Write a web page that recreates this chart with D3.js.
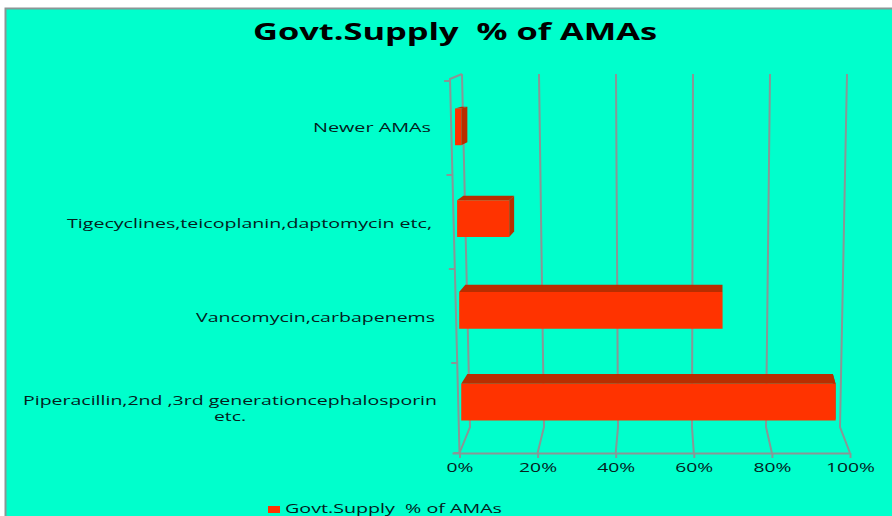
<!DOCTYPE html>
<html><head><meta charset="utf-8">
<script src="https://cdn.jsdelivr.net/npm/d3@7"></script>
<style>html,body{margin:0;padding:0;background:#fff;overflow:hidden}svg{display:block}text{font-family:"Open Sans",sans-serif;fill:#04201c}</style>
</head><body><svg id="c" width="892" height="516"></svg>
<script>
const title = "Govt.Supply  % of AMAs";
const categories = ["Newer AMAs","Tigecyclines,teicoplanin,daptomycin etc,","Vancomycin,carbapenems","Piperacillin,2nd ,3rd generationcephalosporin etc."];
const values = [1.2,13,68,97.8];
const pctTicks = [0,20,40,60,80,100];

const svg = d3.select("#c");
const grey = "#8a9695", face = "#ff3300", dark = "#b82e00", bg = "#00ffcc";

svg.append("rect").attr("x",6).attr("y",9).attr("width",886).attr("height",507).attr("fill",bg);
svg.append("path").attr("d","M5.5,516V8.5H892").attr("fill","none").attr("stroke",grey).attr("stroke-width",2);

// three planes of the fake-3D frame
const topX = d3.scaleLinear().domain([0,100]).range([462,847]);
const floorX = d3.scaleLinear().domain([0,100]).range([470,840]);
const frontX = d3.scaleLinear().domain([0,100]).range([459.5,850]);
const topY = 74, floorY = 427, frontY = 453;
const backX = (p,y)=> topX(p)+(floorX(p)-topX(p))*(y-topY)/(floorY-topY);

const gl = svg.append("g");
const lineGen = d3.line();
gl.selectAll("path.grid").data(pctTicks).join("path").attr("class","grid")
  .attr("d",p=>lineGen([[topX(p),topY],[floorX(p),floorY],[frontX(p),frontY]]))
  .attr("fill","none").attr("stroke",grey).attr("stroke-width",2);

// left wall
const wallTop = [450,79], wallBottom = [459.5,frontY];
gl.append("path").attr("d",lineGen([[topX(0),topY],wallTop,wallBottom]))
  .attr("fill","none").attr("stroke",grey).attr("stroke-width",2);

// category scale on the wall
const wallY = d3.scaleBand().domain(categories).range([81,457]);
const wallXAt = y=> wallTop[0]+(wallBottom[0]-wallTop[0])*(y-wallTop[1])/(wallBottom[1]-wallTop[1]);
const tickYs = categories.map(c=>wallY(c)).concat([frontY]);
gl.selectAll("path.wt").data(tickYs).join("path").attr("class","wt")
  .attr("d",y=>lineGen([[wallXAt(y)-6,y],[wallXAt(y),y]]))
  .attr("stroke",grey).attr("stroke-width",2);

// bottom axis
const ax = svg.append("g").attr("transform",`translate(0,${frontY})`)
  .call(d3.axisBottom(frontX).tickValues(pctTicks).tickFormat(d=>d+"%").tickSizeOuter(0).tickSize(5).tickPadding(5));
ax.select(".domain").attr("stroke",grey).attr("stroke-width",2).attr("d",`M${frontX(0)-7},0.5H${frontX(100)}`);
ax.selectAll(".tick line").attr("stroke",grey).attr("stroke-width",2);
ax.selectAll(".tick text").attr("font-size",13).attr("font-family",'"Open Sans",sans-serif').attr("fill","#04201c")
  .attr("y",10).attr("textLength",d=>d===100?49:d===0?27:38).attr("lengthAdjust","spacingAndGlyphs");

// bars
const ky = 0.03;
const barY = d3.scaleBand().domain(categories).range([81,448]).paddingInner(0.6).paddingOuter(0.3);
const persp = ([x,y])=>[x+(x-720)*0.024, y+(y-45)*ky];
const bars = svg.append("g").selectAll("g").data(categories.map((c,i)=>({c,v:values[i]}))).join("g");
const geom = d=>{
  const fy0 = barY(d.c), fy1 = fy0+barY.bandwidth();
  const by0 = fy0-((fy0-45)*ky)/(1+ky), by1 = fy1-((fy1-45)*ky)/(1+ky);
  const l = backX(0,by0)-1.5, r = backX(d.v,by0);
  return {bl:[l,by0],br:[r,by0],brb:[r,by1],fl:persp([l,by0]),fr:persp([r,by0]),frb:persp([r,by1]),flb:persp([l,by1])};
};
bars.append("path").attr("fill",dark)
  .attr("d",d=>{const g=geom(d);return lineGen([g.bl,g.br,g.fr,g.fl])+"Z";});
bars.append("path").attr("fill",dark)
  .attr("d",d=>{const g=geom(d);return lineGen([g.br,g.brb,g.frb,g.fr])+"Z";});
bars.append("path").attr("fill",face)
  .attr("d",d=>{const g=geom(d);return lineGen([g.fl,g.fr,g.frb,g.flb])+"Z";});

// text
const T=(s,x,y,size,w,weight,fill)=>{
  const t=svg.append("text").attr("x",x).attr("y",y).attr("font-size",size).text(s)
    .attr("xml:space","preserve").style("white-space","pre");
  if(weight)t.attr("font-weight",weight);
  if(fill)t.style("fill",fill);
  if(w)t.attr("textLength",w).attr("lengthAdjust","spacingAndGlyphs");
  return t;
};
T(title,253,40,24,404,700,"#000");
const labelRows = [
  [categories[0],313,132,118],
  [categories[1],67,228,365],
  [categories[2],196,322,239],
  [categories[3].replace(" etc.",""),23,405,414],
  ["etc.",214,421,32]
];
labelRows.forEach(r=>T(r[0],r[1],r[2],12,r[3]));

// legend
svg.append("rect").attr("x",268).attr("y",506).attr("width",12).attr("height",7).attr("fill",face);
T(title,285,513,12.5,217);
</script></body></html>
